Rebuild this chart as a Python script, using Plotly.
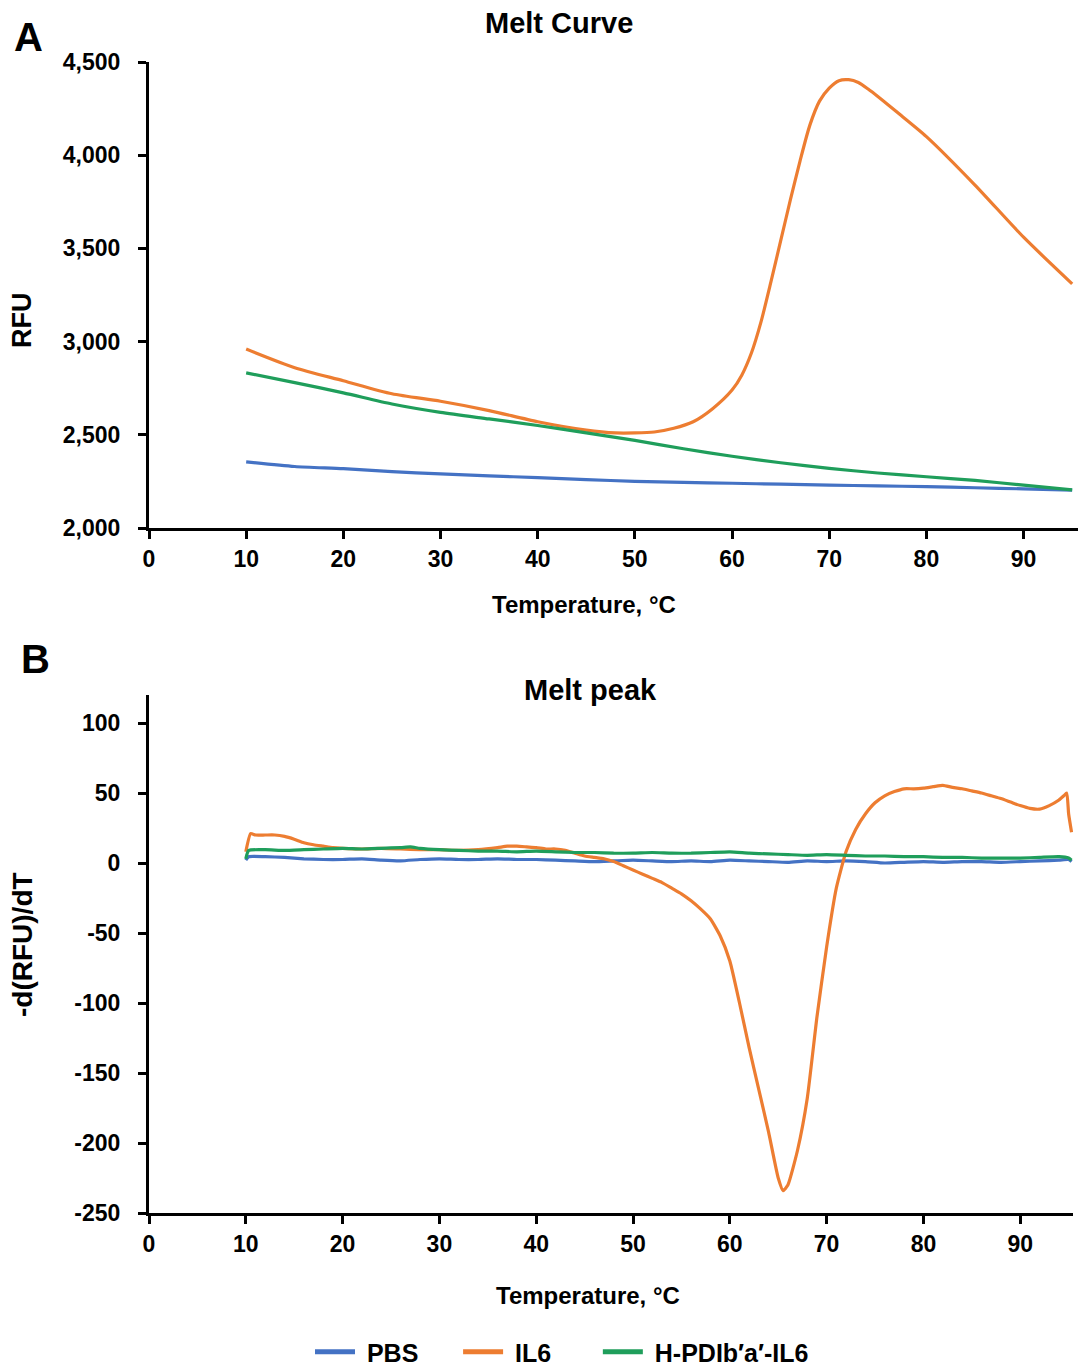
import plotly.graph_objects as go

# ---------------- Data: Panel A (Melt Curve) ----------------
a_pbs_t = [10, 15, 20, 25, 30, 35, 40, 45, 50, 55, 60, 65, 70, 75, 80, 85, 90, 95]
a_pbs_v = [2355, 2330, 2318, 2302, 2290, 2280, 2270, 2260, 2250, 2245, 2240, 2235, 2230, 2226, 2222, 2216, 2210, 2203]

a_il6_t = [10, 15, 20, 25, 30, 35, 40, 45, 48, 50, 52, 54, 56, 58, 60, 61, 62, 63, 64, 65, 66, 67, 68, 69,
           70, 71, 72, 73, 74, 75, 77, 80, 85, 90, 95]
a_il6_v = [2960, 2860, 2790, 2720, 2680, 2630, 2570, 2525, 2510, 2510, 2515, 2535, 2570, 2640, 2740, 2820,
           2940, 3110, 3320, 3540, 3760, 3970, 4160, 4290, 4360, 4400, 4405, 4390, 4355, 4315, 4230, 4100,
           3840, 3560, 3310]

a_hpdi_t = [10, 15, 20, 25, 30, 35, 40, 45, 50, 55, 60, 65, 70, 75, 80, 85, 90, 95]
a_hpdi_v = [2832, 2780, 2725, 2665, 2620, 2585, 2550, 2510, 2470, 2425, 2385, 2350, 2320, 2295, 2275, 2255,
            2230, 2205]

# ---------------- Data: Panel B (Melt peak) ----------------
b_il6_t = [10, 10.5, 11, 12, 13, 14, 15, 16, 17, 18, 19, 20, 22, 24, 26, 28, 30, 32, 34, 36, 37, 38, 39, 40,
           41, 42, 43, 44, 45, 46, 47, 48, 49, 50, 51, 52, 53, 54, 55, 56, 57, 58, 59, 60, 61, 62, 63, 64,
           65, 65.5, 66, 67, 68, 69, 70, 71, 72, 73, 74, 75, 76, 77, 78, 79, 80, 81, 82, 83, 84, 85, 86, 87,
           88, 89, 90, 91, 92, 93, 94, 94.5, 94.8, 95, 95.3]
b_il6_v = [8, 21, 20, 20, 20, 19, 17, 14.5, 13, 12, 11, 10.5, 10, 10.5, 10, 9.5, 9.5, 9, 9.5, 11, 12, 12,
           11.5, 11, 10, 10, 9, 7, 5, 4, 3, 1, -2, -5, -8, -11, -14, -18, -22, -27, -33, -40, -52, -70, -100,
           -132, -162, -192, -225, -234, -230, -205, -168, -110, -60, -18, 8, 24, 35, 43, 48, 51, 53, 53, 53.5,
           54.5, 55.5, 54, 53, 51.5, 50, 48, 46, 43.5, 41, 39, 38.5, 41, 45, 48, 50, 35, 22]

b_pbs_t = [10, 10.3, 12, 14, 16, 18, 20, 22, 24, 26, 28, 30, 32, 34, 36, 38, 40, 42, 44, 46, 48, 50, 52, 54,
           56, 58, 60, 62, 64, 66, 68, 70, 72, 74, 76, 78, 80, 82, 84, 86, 88, 90, 92, 94, 95, 95.3]
b_pbs_v = [2, 4.5, 4.5, 4, 3, 2.5, 2.5, 3, 2, 1.5, 2.5, 3, 2.5, 2.5, 3, 2.5, 2.5, 2, 1.5, 1, 1.5, 2, 1.5, 1,
           1.5, 1, 2, 1.5, 1, 0.5, 1.5, 1, 1.5, 1, 0, 0.5, 1, 0.5, 1, 1, 0.5, 1, 1.5, 2, 2.5, 1]

b_hpdi_t = [10, 10.3, 12, 14, 16, 18, 20, 22, 24, 26, 27, 28, 30, 32, 34, 36, 38, 40, 42, 44, 46, 48, 50, 52,
            54, 56, 58, 60, 62, 64, 66, 68, 70, 72, 74, 76, 78, 80, 82, 84, 86, 88, 90, 92, 94, 95, 95.3]
b_hpdi_v = [3, 9, 9.5, 9, 9.5, 10, 10.5, 10, 10.5, 11, 11.5, 10.5, 9.5, 9, 8.5, 8.5, 8, 8.5, 8, 7.5, 7.5, 7,
            7, 7.5, 7, 7, 7.5, 8, 7, 6.5, 6, 5.5, 6, 5.5, 5, 5, 4.5, 4.5, 4, 4, 3.5, 3.5, 3.5, 4, 4.5, 3.5, 2]

series_names = ["PBS", "IL6", "H-PDIb′a′-IL6"]
colors = ["#4472C4", "#ED7D31", "#1F9E5B"]

x_ticks = [0, 10, 20, 30, 40, 50, 60, 70, 80, 90]
a_y_ticks = [2000, 2500, 3000, 3500, 4000, 4500]
b_y_ticks = [-250, -200, -150, -100, -50, 0, 50, 100]
b_y_ticktext = ["-250", "-200", "-150", "-100", "-50", "0", "50", "100"]

FONT = "Liberation Sans, Arial, sans-serif"
W, H = 1078, 1367
NB = "\u00a0"

fig = go.Figure()

a_data = [(a_pbs_t, a_pbs_v), (a_il6_t, a_il6_v), (a_hpdi_t, a_hpdi_v)]
b_data = [(b_pbs_t, b_pbs_v), (b_il6_t, b_il6_v), (b_hpdi_t, b_hpdi_v)]

for i, (t, v) in enumerate(a_data):
    fig.add_trace(go.Scatter(x=t, y=v, mode="lines", name=series_names[i],
                             line=dict(color=colors[i], width=3.2, shape="spline", smoothing=0.7),
                             xaxis="x", yaxis="y", showlegend=False))
for i, (t, v) in enumerate(b_data):
    fig.add_trace(go.Scatter(x=t, y=v, mode="lines", name=series_names[i],
                             line=dict(color=colors[i], width=3.2, shape="spline", smoothing=0.5),
                             xaxis="x2", yaxis="y2", showlegend=False))

# legend entries
legend_labels = [NB + series_names[0] + NB * 5, NB + series_names[1] + NB * 6, NB + series_names[2]]
for i in range(3):
    fig.add_trace(go.Scatter(x=[None], y=[None], mode="lines", name=legend_labels[i],
                             line=dict(color=colors[i], width=5), xaxis="x2", yaxis="y2",
                             showlegend=True))

axis_common = dict(showline=True, linecolor="black", linewidth=3, ticks="outside", ticklen=8,
                   tickwidth=3, tickcolor="black", showgrid=False, zeroline=False,
                   tickfont=dict(family=FONT, size=23, color="black", weight="bold"))

fig.update_layout(
    width=W, height=H, autosize=False,
    margin=dict(l=0, r=0, t=0, b=0, autoexpand=False),
    paper_bgcolor="white", plot_bgcolor="white",
    xaxis=dict(domain=[149 / W, 1.0], range=[0, 95.6], tickvals=x_ticks, anchor="y",
               ticklabelstandoff=0, **axis_common),
    yaxis=dict(domain=[1 - 528 / H, 1 - 62 / H], range=[2000, 4500], tickvals=a_y_ticks,
               tickformat=",", anchor="x", ticklabelstandoff=13, **axis_common),
    xaxis2=dict(domain=[149 / W, 1073 / W], range=[0, 95.45], tickvals=x_ticks, anchor="y2",
                ticklabelstandoff=0, **axis_common),
    yaxis2=dict(domain=[1 - 1213 / H, 1 - 695 / H], range=[-250, 120], tickvals=b_y_ticks,
                ticktext=b_y_ticktext, anchor="x2", ticklabelstandoff=13, **axis_common),
    legend=dict(orientation="h", x=562 / W, y=1 - 1352 / H, xanchor="center", yanchor="middle",
                font=dict(family=FONT, size=25, color="black", weight="bold"),
                itemwidth=40, tracegroupgap=0, bgcolor="rgba(0,0,0,0)"),
    showlegend=True,
)


def ann(text, x, y, size, angle=0):
    fig.add_annotation(text=text, x=x / W, y=1 - y / H, xref="paper", yref="paper",
                       showarrow=False, textangle=angle, xanchor="center", yanchor="middle",
                       font=dict(family=FONT, size=size, color="black", weight="bold"))


ann("A", 28, 37, 40)
ann("B", 35, 659, 40)
ann("Melt Curve", 559, 23, 29)
ann("Melt peak", 590, 690, 29)
ann("Temperature, °C", 584, 604, 24)
ann("Temperature, °C", 588, 1295, 24)
ann("RFU", 22, 320, 27, -90)
ann("-d(RFU)/dT", 22, 945, 28, -90)

fig.write_html("out.html")
